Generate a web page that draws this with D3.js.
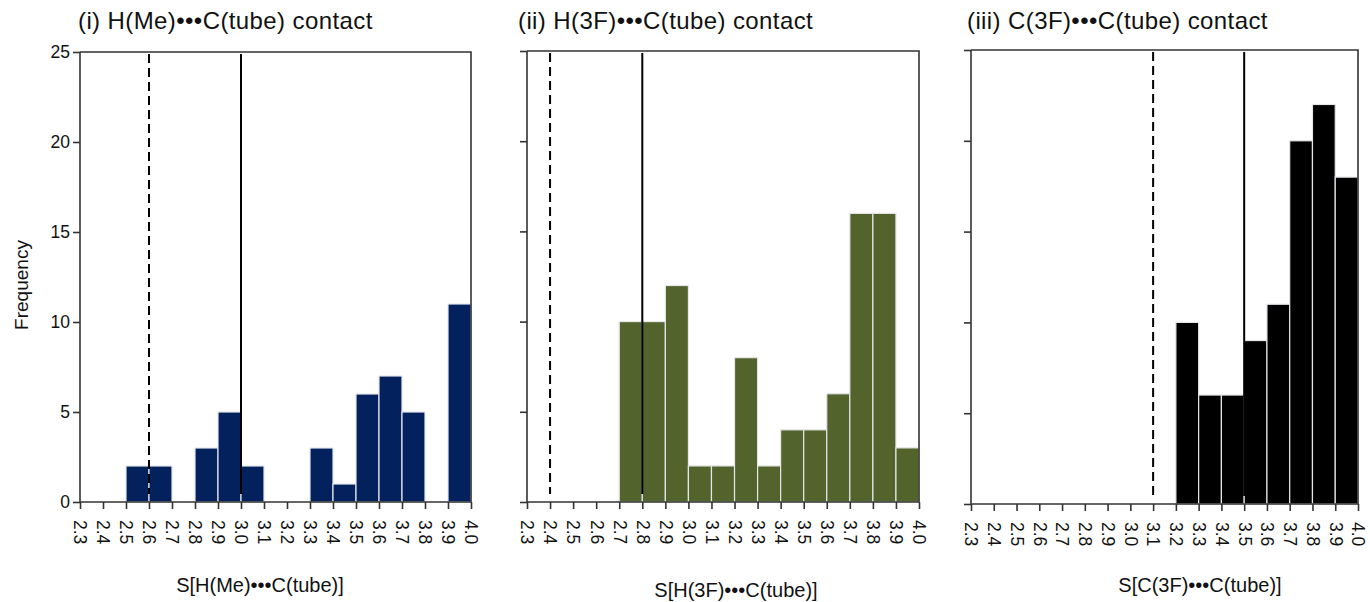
<!DOCTYPE html>
<html>
<head>
<meta charset="utf-8">
<script src="https://cdn.jsdelivr.net/npm/d3@7"></script>
<style>
  body { margin: 0; background: #fff; }
  svg { display: block; font-family: "Liberation Sans", Arial, Helvetica, sans-serif; }
</style>
</head>
<body>
<svg id="chart" width="1370" height="602"></svg>
<script>
// bin edges on the S axis (also the tick labels)
const binEdges = [2.3, 2.4, 2.5, 2.6, 2.7, 2.8, 2.9, 3.0, 3.1, 3.2, 3.3, 3.4, 3.5, 3.6, 3.7, 3.8, 3.9, 4.0];
const tickLabels = ['2.3', '2.4', '2.5', '2.6', '2.7', '2.8', '2.9', '3.0', '3.1', '3.2', '3.3', '3.4', '3.5', '3.6', '3.7', '3.8', '3.9', '4.0'];
const freqTicks = [0, 5, 10, 15, 20, 25];

// counts per bin, one per panel
const hMeCounts = [0, 0, 2, 2, 0, 3, 5, 2, 0, 0, 3, 1, 6, 7, 5, 0, 11];
const h3fCounts = [0, 0, 0, 0, 10, 10, 12, 2, 2, 8, 2, 4, 4, 6, 16, 16, 3];
const c3fCounts = [0, 0, 0, 0, 0, 0, 0, 0, 0, 10, 6, 6, 9, 11, 20, 22, 18];

// reference lines (dashed / solid)
const dashedAt = [2.6, 2.4, 3.1];
const solidAt = [3.0, 2.8, 3.5];

const panelTitles = ['(i) H(Me)\u2022\u2022\u2022C(tube)  contact',
                     '(ii) H(3F)\u2022\u2022\u2022C(tube)  contact',
                     '(iii) C(3F)\u2022\u2022\u2022C(tube)  contact'];
const axisTitles = ['S[H(Me)\u2022\u2022\u2022C(tube)]',
                    'S[H(3F)\u2022\u2022\u2022C(tube)]',
                    'S[C(3F)\u2022\u2022\u2022C(tube)]'];

const panels = [
  {counts: hMeCounts, color: '#03215d', left: 80, right: 471, top: 52, bottom: 502, titleX: 78, axisTitleX: 260, axisTitleY: 592, yLabels: true},
  {counts: h3fCounts, color: '#52632b', left: 527, right: 919, top: 51, bottom: 502, titleX: 518, axisTitleX: 736, axisTitleY: 597, yLabels: false},
  {counts: c3fCounts, color: '#000000', left: 971, right: 1358, top: 50, bottom: 504, titleX: 967, axisTitleX: 1200, axisTitleY: 592, yLabels: false}
];

const axisColor = '#333';
const svg = d3.select('#chart');

panels.forEach((p, k) => {
  const x = d3.scaleLinear().domain([binEdges[0], binEdges[binEdges.length - 1]]).range([p.left, p.right]);
  const y = d3.scaleLinear().domain([0, 25]).range([p.bottom, p.top]);
  const g = svg.append('g');

  // bars
  const bins = p.counts.map((c, i) => ({x0: binEdges[i], x1: binEdges[i + 1], value: c}));
  g.append('g').selectAll('rect')
    .data(bins.filter(d => d.value > 0))
    .enter()
    .append('rect')
    .attr('x', d => x(d.x0))
    .attr('width', d => x(d.x1) - x(d.x0))
    .attr('y', d => y(d.value))
    .attr('height', d => y(0) - y(d.value))
    .attr('fill', p.color)
    .attr('stroke', '#e4e6ea')
    .attr('stroke-width', 1.2);

  // reference lines
  g.append('line')
    .attr('x1', x(dashedAt[k])).attr('x2', x(dashedAt[k]))
    .attr('y1', y(25) + 2).attr('y2', y(0) - 8)
    .attr('stroke', '#000').attr('stroke-width', 2)
    .attr('stroke-dasharray', '9,5');
  g.append('line')
    .attr('x1', x(solidAt[k])).attr('x2', x(solidAt[k]))
    .attr('y1', y(25) + 2).attr('y2', y(0) - 8)
    .attr('stroke', '#000').attr('stroke-width', 2);

  // frame: top and right
  g.append('path')
    .attr('d', `M${p.left},${y(25)}H${p.right}V${y(0)}`)
    .attr('fill', 'none')
    .attr('stroke', axisColor)
    .attr('stroke-width', 1.6);

  // y axis
  const yAxis = g.append('g')
    .attr('transform', `translate(${p.left},0)`)
    .call(d3.axisLeft(y).tickValues(freqTicks).tickSize(7).tickPadding(3)
      .tickFormat(p.yLabels ? d3.format('d') : ''));
  // x axis
  const xAxis = g.append('g')
    .attr('transform', `translate(0,${p.bottom})`)
    .call(d3.axisBottom(x).tickValues(binEdges).tickSize(7)
      .tickFormat((d, i) => tickLabels[i]));

  [yAxis, xAxis].forEach(a => {
    a.select('.domain').attr('stroke', axisColor).attr('stroke-width', 1.6);
    a.selectAll('.tick line').attr('stroke', axisColor).attr('stroke-width', 1.6);
    a.selectAll('text').attr('fill', '#111').style('font-size', '17.5px');
  });
  xAxis.select('.domain').attr('d', `M${p.left},0H${p.right}`);
  yAxis.select('.domain').attr('d', `M0,${p.top}V${p.bottom}`);

  xAxis.selectAll('.tick text')
    .attr('y', 0)
    .attr('x', 18)
    .attr('dy', '.35em')
    .attr('transform', 'rotate(90)')
    .style('text-anchor', 'start');

  // panel title
  svg.append('text')
    .attr('x', p.titleX)
    .attr('y', 29)
    .attr('fill', '#111')
    .style('font-size', '24px')
    .style('letter-spacing', '0.4px')
    .text(panelTitles[k]);

  // x axis title
  svg.append('text')
    .attr('x', p.axisTitleX)
    .attr('y', p.axisTitleY)
    .attr('text-anchor', 'middle')
    .attr('fill', '#111')
    .style('font-size', '20px')
    .text(axisTitles[k]);
});

// y axis title
svg.append('text')
  .attr('transform', 'translate(28,285) rotate(-90)')
  .attr('text-anchor', 'middle')
  .attr('fill', '#111')
  .style('font-size', '19px')
  .text('Frequency');
</script>
</body>
</html>
